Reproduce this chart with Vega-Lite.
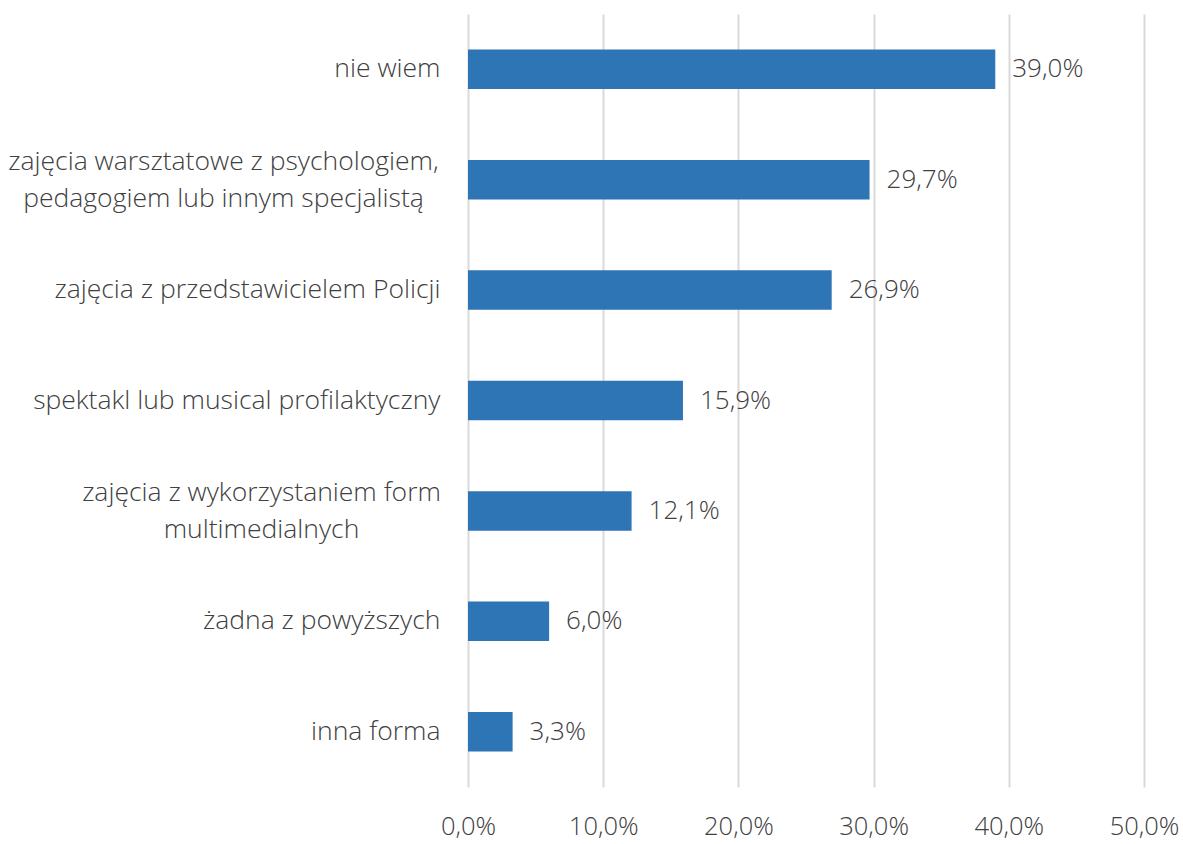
{
  "$schema": "https://vega.github.io/schema/vega-lite/v6.json",
  "width": 676,
  "height": 773,
  "autosize": {"type": "none"},
  "padding": {"left": 468, "top": 14, "right": 39, "bottom": 57},
  "background": "white",
  "config": {
    "view": {"stroke": null},
    "font": "Open Sans",
    "locale": {"number": {"decimal": ",", "thousands": " ", "grouping": [3], "currency": ["", " zł"]}}
  },
  "data": {
    "values": [
      {"label": "nie wiem", "value": 0.390},
      {"label": "zajęcia warsztatowe z psychologiem,|pedagogiem lub innym specjalistą", "value": 0.297},
      {"label": "zajęcia z przedstawicielem Policji", "value": 0.269},
      {"label": "spektakl lub musical profilaktyczny", "value": 0.159},
      {"label": "zajęcia z wykorzystaniem form|multimedialnych", "value": 0.121},
      {"label": "żadna z powyższych", "value": 0.060},
      {"label": "inna forma", "value": 0.033}
    ]
  },
  "encoding": {
    "y": {
      "field": "label",
      "type": "nominal",
      "sort": {"field": "value", "op": "sum", "order": "descending"},
      "scale": {"paddingInner": 0.642, "paddingOuter": 0.321},
      "axis": {
        "title": null,
        "domain": false,
        "ticks": false,
        "labelExpr": "split(datum.value, '|')",
        "labelFontSize": 26.5,
        "labelFontWeight": 300,
        "labelColor": "#404040",
        "labelAlign": {"condition": {"test": "indexof(datum.value, '|') >= 0", "value": "center"}, "value": "right"},
        "labelPadding": {"condition": [
          {"test": "indexof(datum.value, 'warsztatowe') >= 0", "value": 245},
          {"test": "indexof(datum.value, 'multimedialnych') >= 0", "value": 207}
        ], "value": 28},
        "labelOffset": {"condition": {"test": "indexof(datum.value, '|') >= 0", "value": -18}, "value": 0},
        "labelLimit": 600,
        "labelLineHeight": 37
      }
    },
    "x": {
      "field": "value",
      "type": "quantitative",
      "scale": {"domain": [0, 0.5]},
      "axis": {
        "title": null,
        "values": [0, 0.1, 0.2, 0.3, 0.4, 0.5],
        "format": ".1%",
        "domain": false,
        "ticks": false,
        "grid": true,
        "gridColor": "#D9D9D9",
        "gridWidth": 2,
        "labelFontSize": 25.5,
        "labelFontWeight": 300,
        "labelColor": "#404040",
        "labelPadding": 27,
        "labelFlush": false
      }
    }
  },
  "layer": [
    {"mark": {"type": "bar", "color": "#2E75B6"}},
    {
      "mark": {"type": "text", "align": "left", "baseline": "middle", "dx": 17, "fontSize": 26, "fontWeight": 300, "color": "#404040"},
      "encoding": {"text": {"field": "value", "type": "quantitative", "format": ".1%"}}
    }
  ]
}
